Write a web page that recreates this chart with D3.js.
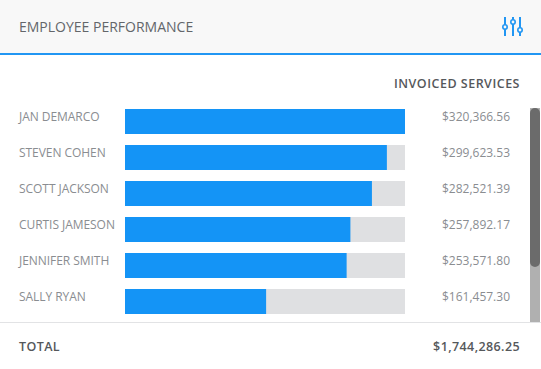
<!DOCTYPE html>
<html>
<head>
<meta charset="utf-8">
<script src="https://cdn.jsdelivr.net/npm/d3@7"></script>
<style>
  html, body { margin: 0; padding: 0; background: #fff; }
  svg { display: block; font-family: "Open Sans", sans-serif; }
</style>
</head>
<body>
<svg id="chart" width="541" height="369"></svg>
<script>
const title = "EMPLOYEE PERFORMANCE";
const columnTitle = "INVOICED SERVICES";
const employees = ["JAN DEMARCO", "STEVEN COHEN", "SCOTT JACKSON", "CURTIS JAMESON", "JENNIFER SMITH", "SALLY RYAN"];
const invoiced = [320366.56, 299623.53, 282521.39, 257892.17, 253571.80, 161457.30];
const totalLabel = "TOTAL";
const totalValue = 1744286.25;

const svg = d3.select("#chart");
const money = d3.format("$,.2f");

const x = d3.scaleLinear().domain([0, d3.max(invoiced)]).range([125, 405]);
const y = d3.scaleBand().domain(employees).range([109, 314]).paddingInner(11 / 36).paddingOuter(0);

// header
svg.append("rect").attr("width", 541).attr("height", 53).attr("fill", "#f8f8f8");
svg.append("rect").attr("y", 53).attr("width", 541).attr("height", 2).attr("fill", "#2196f3");
svg.append("text").text(title)
  .attr("x", 19).attr("y", 32)
  .attr("font-size", 14).attr("fill", "#63666a");

// settings icon
const icon = svg.append("g").attr("stroke", "#2196f3").attr("fill", "#f8f8f8");
[[505, 27], [513, 22], [520, 30]].forEach(function(p) {
  icon.append("line").attr("x1", p[0]).attr("x2", p[0]).attr("y1", 17).attr("y2", 36).attr("stroke-width", 2);
  icon.append("circle").attr("cx", p[0]).attr("cy", p[1]).attr("r", 2.2).attr("stroke-width", 1.6);
});

svg.append("text").text(columnTitle)
  .attr("x", 520).attr("y", 88)
  .attr("text-anchor", "end").attr("font-size", 12.5).attr("font-weight", 600)
  .attr("letter-spacing", 0.5).attr("fill", "#55585b");

// rows
const rows = svg.selectAll("g.row").data(employees).enter().append("g").attr("class", "row");

rows.append("text").text(function(d) { return d; })
  .attr("x", 19)
  .attr("y", function(d) { return y(d) + 12; })
  .attr("font-size", 12).attr("letter-spacing", -0.05).attr("fill", "#8a8d91");

rows.append("rect")
  .attr("x", x(0))
  .attr("y", function(d) { return y(d); })
  .attr("width", x.range()[1] - x(0))
  .attr("height", y.bandwidth())
  .attr("fill", "#dfe0e2");

rows.append("rect")
  .attr("x", x(0))
  .attr("y", function(d) { return y(d); })
  .attr("width", function(d, i) { return x(invoiced[i]) - x(0); })
  .attr("height", y.bandwidth())
  .attr("fill", "#1494f6");

rows.append("text").text(function(d, i) { return money(invoiced[i]); })
  .attr("x", 510)
  .attr("y", function(d) { return y(d) + 12; })
  .attr("text-anchor", "end").attr("font-size", 12).attr("fill", "#8a8d91");

// scrollbar
svg.append("rect").attr("x", 530).attr("y", 108).attr("width", 10).attr("height", 214).attr("fill", "#b0b0b0");
svg.append("rect").attr("x", 530).attr("y", 108).attr("width", 10).attr("height", 159).attr("rx", 5).attr("fill", "#6b6b6b");

// footer
svg.append("rect").attr("y", 322).attr("width", 541).attr("height", 1).attr("fill", "#e2e3e5");
svg.append("text").text(totalLabel)
  .attr("x", 19).attr("y", 351)
  .attr("font-size", 12.5).attr("font-weight", 600).attr("letter-spacing", 0.4).attr("fill", "#55585b");
svg.append("text").text(money(totalValue))
  .attr("x", 520).attr("y", 351)
  .attr("text-anchor", "end").attr("font-size", 12.5).attr("font-weight", 600).attr("letter-spacing", 0.4).attr("fill", "#55585b");
</script>
</body>
</html>
